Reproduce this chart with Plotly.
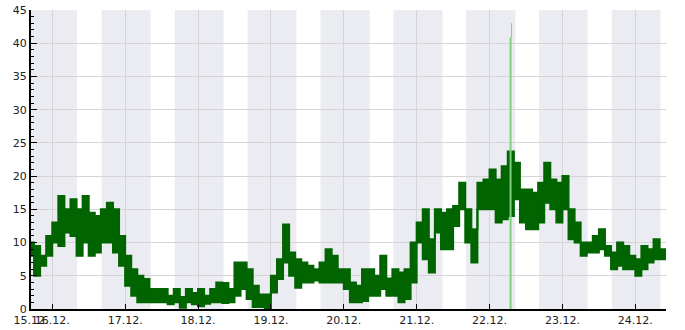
import plotly.graph_objects as go
from datetime import datetime, timedelta

# ---- data ----
series_start = "2023-12-15 17:00"
sample_step_hours = 2
low = [8, 5, 6.5, 8, 10, 9.5, 11.5, 11, 8, 10, 8, 8.5, 10, 10, 8.5, 6.5, 3.5, 2, 1, 1,
       1, 1, 1, 0.7, 1, 0.2, 1, 0.7, 0.4, 0.8, 1, 1, 0.9, 1, 2, 3, 1.5, 0.3, 0.3, 0,
       2.5, 4.5, 7, 5, 3.2, 4, 4, 4.3, 4, 4, 4, 4, 3, 1, 1, 1.2, 2, 2, 3, 2,
       2, 1, 1.5, 4, 10, 7.5, 5.5, 11.5, 9, 9, 12.5, 15, 10, 7, 15, 15, 15, 13, 13.5, 14,
       16.5, 13, 12, 12, 13, 16, 15, 13, 15, 10.5, 10, 8, 8.5, 8.5, 9, 8, 6, 6.5, 6, 6,
       5, 6, 7, 7.5, 7.5, 8]
high = [10, 9.5, 8, 11, 13, 17, 15, 16.5, 15, 17, 14.5, 14, 15, 16, 15, 11, 8, 6, 5, 4.5,
        3, 3, 3, 2, 3, 1.8, 3, 2.4, 3, 2, 3, 4, 3.9, 3, 7, 7, 6, 3.5, 2.2, 2.2,
        5, 7.5, 12.7, 8.5, 7.5, 7, 6.5, 6, 7, 9, 8, 6, 6, 4, 3.5, 6, 6, 5, 8, 4.6,
        6, 5.5, 6, 10, 13, 15, 10.5, 15, 14.5, 15, 15.5, 19, 15, 12, 19, 19.5, 21, 19.5, 21.5, 23.7,
        22, 18, 18, 17.5, 19, 22, 19.5, 19, 20, 15, 13, 10, 10, 11, 12, 9.5, 8.5, 10, 9.5, 8,
        7.5, 9.5, 9, 10.5, 9, 9]

spike_times = ["2023-12-22 06:55", "2023-12-22 07:15"]
spike_base = [0, 40.9]
spike_top = [40.9, 43]

night_start = ["2023-12-15 17:00", "2023-12-16 16:15", "2023-12-17 16:20", "2023-12-18 16:20",
               "2023-12-19 16:20", "2023-12-20 16:20", "2023-12-21 16:15", "2023-12-22 16:15",
               "2023-12-23 16:15"]
night_end = ["2023-12-16 08:10", "2023-12-17 08:25", "2023-12-18 08:25", "2023-12-19 08:25",
             "2023-12-20 08:30", "2023-12-21 08:30", "2023-12-22 08:30", "2023-12-23 08:15",
             "2023-12-24 08:15"]

x_range = ["2023-12-15 17:00", "2023-12-24 10:06"]
tick_dates = ["2023-12-15 17:00", "2023-12-16", "2023-12-17", "2023-12-18", "2023-12-19",
              "2023-12-20", "2023-12-21", "2023-12-22", "2023-12-23", "2023-12-24"]
tick_labels = ["15.12.", "16.12.", "17.12.", "18.12.", "19.12.", "20.12.", "21.12.",
               "22.12.", "23.12.", "24.12."]
y_range = [0, 45]

t0 = datetime.strptime(series_start, "%Y-%m-%d %H:%M")
times = [t0 + timedelta(hours=sample_step_hours * i) for i in range(len(low))]

GREEN = "#006400"
fig = go.Figure()
fig.add_trace(go.Scatter(x=times, y=low, mode="lines",
                         line=dict(color=GREEN, width=2, shape="hvh"),
                         showlegend=False, hoverinfo="skip"))
fig.add_trace(go.Scatter(x=times, y=high, mode="lines",
                         line=dict(color=GREEN, width=2, shape="hvh"),
                         fill="tonexty", fillcolor=GREEN,
                         showlegend=False, hoverinfo="skip"))
fig.add_trace(go.Scatter(x=[spike_times[0]] * 2, y=[spike_base[0], spike_top[0]], mode="lines",
                         line=dict(color="#7fcf7f", width=2), showlegend=False, hoverinfo="skip"))
fig.add_trace(go.Scatter(x=[spike_times[1]] * 2, y=[spike_base[1], spike_top[1]], mode="lines",
                         line=dict(color="#7fcf7f", width=1), showlegend=False, hoverinfo="skip"))

shapes = []
for s, e in zip(night_start, night_end):
    shapes.append(dict(type="rect", xref="x", yref="paper", x0=s, x1=e, y0=0, y1=1,
                       fillcolor="#ebecf1", line=dict(width=0), layer="below"))

font = dict(family="DejaVu Sans", size=11, color="#222222")
fig.update_layout(
    width=685, height=330,
    margin=dict(l=31, r=19, t=10, b=21),
    paper_bgcolor="white", plot_bgcolor="white",
    shapes=shapes,
    font=font,
    showlegend=False,
    xaxis=dict(type="date", range=x_range, tickvals=tick_dates, ticktext=tick_labels,
               tickangle=0, automargin=False,
               showgrid=True, gridcolor="#d4d4d9", gridwidth=1,
               ticks="inside", ticklen=5, tickcolor="black", tickwidth=1,
               showline=True, linecolor="black", linewidth=2,
               zeroline=False, tickfont=font),
    yaxis=dict(range=y_range, dtick=5, tick0=0, automargin=False,
               showgrid=True, gridcolor="#d4d4d9", gridwidth=1,
               ticks="inside", ticklen=6, tickcolor="black", tickwidth=1,
               minor=dict(dtick=1, ticks="inside", ticklen=3, tickcolor="black", showgrid=False),
               showline=True, linecolor="black", linewidth=2,
               zeroline=False, tickfont=font),
)

fig.write_html("out.html")
